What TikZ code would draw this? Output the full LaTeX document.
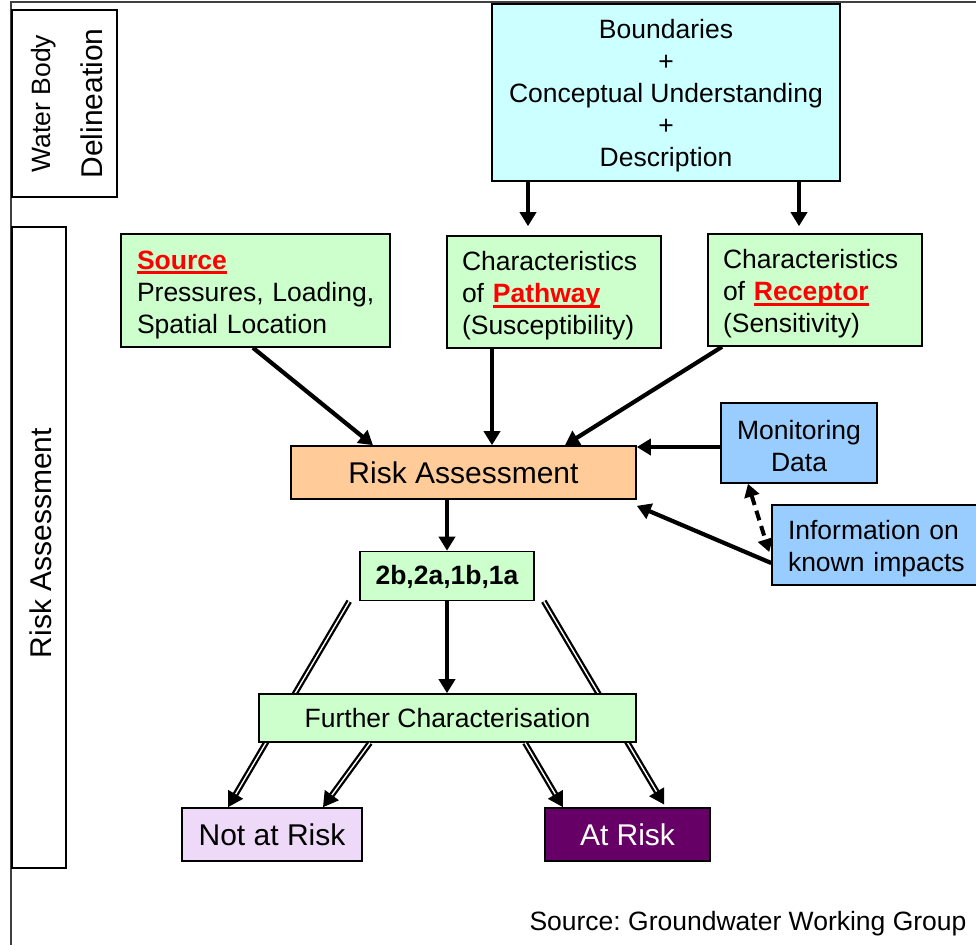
\documentclass[tikz,border=0pt]{standalone}
\usepackage{fontspec}
\setmainfont{Liberation Sans}
\usetikzlibrary{arrows.meta,backgrounds}
\definecolor{cyanbox}{HTML}{CCFFFF}
\definecolor{greenbox}{HTML}{CCFFCC}
\definecolor{orangebox}{HTML}{FFCC99}
\definecolor{bluebox}{HTML}{99CCFF}
\definecolor{lavbox}{HTML}{EEDAF8}
\definecolor{purplebox}{HTML}{660066}
\frenchspacing
\newcommand\fsA{\fontsize{26.5}{32}\selectfont}
\newcommand\fsB{\fontsize{30}{36}\selectfont}
\newcommand\dn[1]{\rule{0pt}{#1}}
\newcommand\keyw[1]{\textcolor{red}{\bfseries\setbox0\hbox{#1}\rlap{\rule[-5pt]{\wd0}{2.8pt}}\box0}}
\begin{document}
\begin{tikzpicture}[x=1pt,y=-1pt,
  box/.style={draw=black,line width=1.6pt,inner sep=0pt,font=\fsA},
  arr/.style={line width=4.2pt,-{Triangle[length=14pt,width=16pt]}},
  dbl/.style={draw=black,double=white,line width=2.3pt,double distance=1.4pt,-{Triangle[length=15pt,width=17pt]}},
  dsh/.style={line width=4pt,dash pattern=on 10pt off 6pt,{Triangle[length=13pt,width=15pt]}-{Triangle[length=13pt,width=15pt]}}]
\useasboundingbox (0,0) rectangle (976,945);
\clip (0,0) rectangle (976,945);
% frame
\draw[line width=1.8pt,draw=black!75] (976,2) -- (11,2) -- (11,945);
% side labels
\node[box,minimum width=105pt,minimum height=187pt] (wbd) at (64.5,103.5) {};
\node[rotate=90,anchor=base,font=\fsA] (wbdA) at (50,103.5) {Water Body};
\node[rotate=90,anchor=base,font=\fsB] (wbdB) at (102,103.5) {Delineation};
\node[box,minimum width=54pt,minimum height=641pt] (rasd) at (39,547.5) {};
\node[rotate=90,anchor=base,font=\fsB] (rasdT) at (51.5,543) {Risk Assessment};
% boxes
\node[box,fill=cyanbox,minimum width=348pt,minimum height=177pt,align=center] (top) at (666,92.5)
  {\dn{25pt}Boundaries\\+\\Conceptual Understanding\\+\\Description};
\node[box,fill=greenbox,minimum width=269pt,minimum height=113pt,inner xsep=16pt,text width=237pt,align=left] (src) at (255.5,290.5)
  {\dn{27pt}\keyw{Source}\\\mbox{Pressures, Loading,}\\\mbox{Spatial Location}};
\node[box,fill=greenbox,minimum width=214pt,minimum height=112pt,inner xsep=15pt,text width=184pt,align=left] (path) at (554,292)
  {\dn{27pt}Characteristics\\of \keyw{Pathway}\\(Susceptibility)};
\node[box,fill=greenbox,minimum width=214pt,minimum height=112pt,inner xsep=15pt,text width=184pt,align=left] (rec) at (815,290)
  {\dn{27pt}Characteristics\\of \keyw{Receptor}\\(Sensitivity)};
\node[box,fill=orangebox,minimum width=345pt,minimum height=53pt,font=\fsB] (risk) at (463.5,472.5) {Risk Assessment};
\node[box,fill=bluebox,minimum width=156pt,minimum height=80pt,align=center] (mon) at (799,443) {\dn{25pt}Monitoring\\Data};
\node[box,fill=bluebox,minimum width=228pt,minimum height=80pt,inner xsep=16pt,text width=196pt,align=left] (info) at (886,545)
  {\dn{27pt}\mbox{Information on}\\\mbox{known impacts}};
\node[box,fill=greenbox,minimum width=174pt,minimum height=49pt,font=\fsA\bfseries] (code) at (447,576) {\dn{22pt}2b,2a,1b,1a};
\node[box,fill=greenbox,minimum width=377pt,minimum height=48pt] (fur) at (447.5,718) {Further Characterisation};
\node[box,fill=lavbox,minimum width=180pt,minimum height=53pt,font=\fsB] (nar) at (272,834.5) {Not at Risk};
\node[box,fill=purplebox,text=white,minimum width=165pt,minimum height=53pt,font=\fsB] (ar) at (627.5,834.5) {At Risk};
\node[anchor=base east,font=\fsA] (cred) at (970,930) {Source: Groundwater Working Group};
% connectors
\draw[arr,shorten >=9pt] ([xshift=-138pt]top.south) -- ([xshift=-26pt]path.north);
\draw[arr,shorten >=7pt] ([xshift=133pt]top.south) -- ([xshift=-16pt]rec.north);
\draw[arr] ([xshift=-2.5pt]src.south) -- ([xshift=-90.5pt]risk.north);
\draw[arr] ([xshift=-62pt]path.south) -- ([xshift=28.5pt]risk.north);
\draw[arr] ([xshift=-93pt]rec.south) -- ([xshift=101.5pt]risk.north);
\draw[arr] ([yshift=-4pt]mon.west) -- ([yshift=-4pt]mon.west -| risk.east);
\draw[arr] ([yshift=-18pt]info.west) -- ([yshift=-6pt]risk.south east);
\draw[dsh] ([xshift=-51pt]mon.south) -- ([xshift=-2pt,yshift=-7pt]info.west);
\draw[arr] ([xshift=-16.5pt]risk.south) -- (code.north);
\draw[arr] (code.south) -- (code.south |- fur.north);
\begin{scope}[on background layer]
\draw[dbl] ([xshift=-10pt]code.south west) -- ([xshift=-44pt]nar.north);
\draw[dbl,shorten >=3pt] ([xshift=9pt]code.south east) -- ([xshift=-45pt]ar.north east);
\end{scope}
\draw[dbl] ([xshift=-77.5pt]fur.south) -- ([xshift=51pt]nar.north);
\draw[dbl] ([xshift=77.5pt]fur.south) -- ([xshift=-64.5pt]ar.north);
\end{tikzpicture}
\end{document}
